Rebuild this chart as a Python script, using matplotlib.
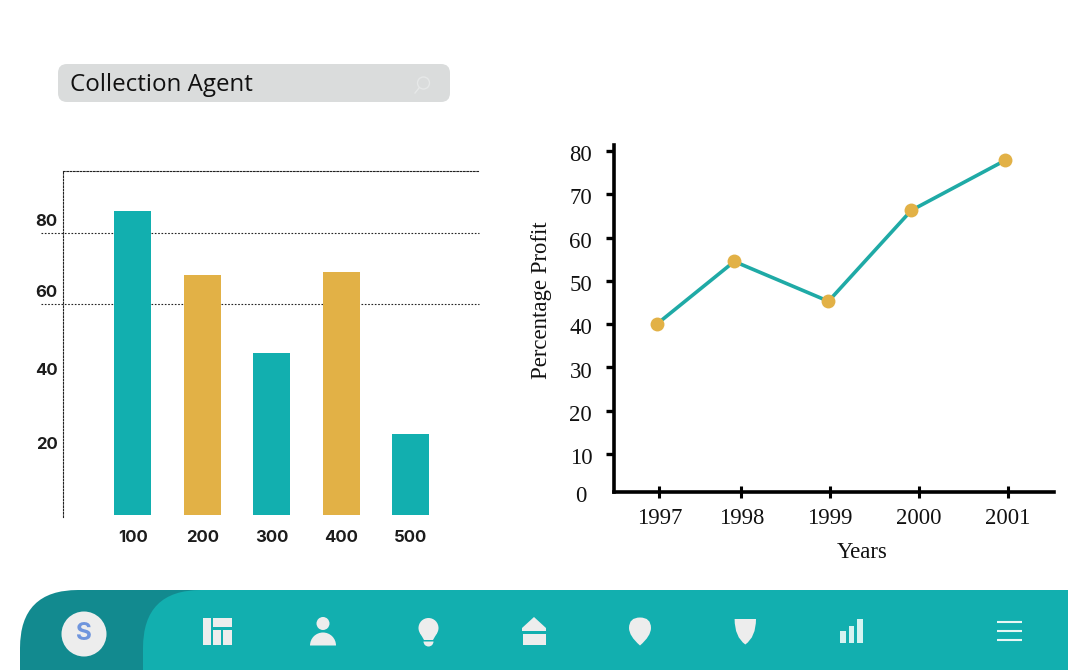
import matplotlib
matplotlib.use("Agg")
import matplotlib.pyplot as plt
from matplotlib.patches import FancyBboxPatch, Circle, Wedge, Polygon, Rectangle, PathPatch
from matplotlib.path import Path
from matplotlib.transforms import blended_transform_factory, ScaledTranslation

# ---------- data ----------
bar_categories = [100, 200, 300, 400, 500]
bar_values = [86.2, 68.2, 46.2, 69.0, 23.5]
bar_base = 0.6
grid_values = [80, 60]
bar_ytick_labels = ["80", "60", "40", "20"]
bar_ylabel_pos = [83.7, 63.8, 41.8, 21.0]

line_tick_pos = [1997, 1997.94, 1998.96, 1999.98, 2001]
line_tick_labels = ["1997", "1998", "1999", "2000", "2001"]
line_x = [1996.97, 1997.86, 1998.94, 1999.89, 2000.97]
line_y = [40.0, 54.5, 45.3, 66.3, 77.9]
line_yticks = [10, 20, 30, 40, 50, 60, 70, 80]

TEAL = "#12AFAF"
DARK = "#128A8F"
GOLD = "#E2B146"
LINE = "#1FAAA6"
ICON = "#EDEDED"
W, H = 1068, 670

fig = plt.figure(figsize=(W / 100, H / 100), dpi=100, facecolor="white")


def rect(x0, y0, x1, y1):
    return [x0 / W, 1 - y1 / H, (x1 - x0) / W, (y1 - y0) / H]


# ---------- decoration layer in pixel space ----------
bg = fig.add_axes([0, 0, 1, 1], zorder=0)
bg.set_xlim(0, W)
bg.set_ylim(H, 0)
bg.axis("off")

bg.add_patch(FancyBboxPatch((58, 64), 392, 38, boxstyle="round,pad=0,rounding_size=9",
                            fc="#DADCDC", ec="none"))
bg.text(70, 85, "Collection Agent", family="Open Sans", fontsize=17.4, color="#111111",
        va="center", ha="left")
bg.add_patch(Circle((423.5, 83), 6, fc="none", ec="#E6E8E8", lw=1))
bg.plot([419, 415], [88, 93], color="#E6E8E8", lw=1)

bg.add_patch(FancyBboxPatch((20, 590), 1200, 200, boxstyle="round,pad=0,rounding_size=58",
                            fc=DARK, ec="none"))
bg.add_patch(FancyBboxPatch((143, 590), 1200, 200, boxstyle="round,pad=0,rounding_size=58",
                            fc=TEAL, ec="none"))

# avatar
bg.add_patch(Circle((84, 634), 22.5, fc=ICON, ec="none"))
bg.text(84, 633.5, "S", family="Inter", fontsize=17.5, fontweight="bold", color="#6F95DD",
        ha="center", va="center")

# dashboard icon
for x0, y0, x1, y1 in [(203, 617.5, 211, 645), (212.5, 617.5, 231.5, 627),
                       (212.5, 630, 220.7, 645), (223.4, 630, 231.5, 645)]:
    bg.add_patch(Rectangle((x0, y0), x1 - x0, y1 - y0, fc=ICON, ec="none"))

# person icon
bg.add_patch(Circle((323, 623.5), 6.5, fc=ICON, ec="none"))
bg.add_patch(Wedge((323, 645.5), 13, 180, 360, fc=ICON, ec="none"))

# bulb icon
bg.add_patch(Circle((428.5, 628), 10, fc=ICON, ec="none"))
bg.add_patch(Polygon([(420, 633), (437, 633), (433, 640), (424, 640)], fc=ICON, ec="none"))
bg.add_patch(Wedge((428.5, 641.5), 5, 0, 180, fc=ICON, ec="none"))

# house icon
bg.add_patch(Polygon([(534, 617), (546, 628), (546, 631), (522, 631), (522, 628)],
                     fc=ICON, ec="none"))
bg.add_patch(Rectangle((523, 633.5), 23, 11.5, fc=ICON, ec="none"))

# pin icon
pin = Path([(640, 645.5), (629, 636), (629, 628), (629, 617.5), (640, 617.5),
            (651, 617.5), (651, 628), (651, 636), (640, 645.5)],
           [Path.MOVETO] + [Path.CURVE3] * 8)
bg.add_patch(PathPatch(pin, fc=ICON, ec="none"))

# shield icon
shield = Path([(734.6, 619), (756, 619), (756, 637), (745.3, 644.5), (734.6, 637), (734.6, 619)],
              [Path.MOVETO, Path.LINETO, Path.CURVE3, Path.CURVE3, Path.CURVE3, Path.CURVE3])
bg.add_patch(PathPatch(shield, fc=ICON, ec="none"))

# signal icon
for x0, x1, y0 in [(839.7, 846.4, 630.5), (848.8, 854, 625.5), (857, 862.6, 619.4)]:
    bg.add_patch(Rectangle((x0, y0), x1 - x0, 643.3 - y0, fc="#D5F3F1", ec="none"))

# menu icon
for y in [621.8, 630.5, 639.6]:
    bg.plot([997, 1022], [y, y], color="#E8F7F5", lw=1.5, solid_capstyle="butt")

# ---------- left bar chart ----------
ax = fig.add_axes(rect(63, 171, 479, 517.3), zorder=2)
ax.patch.set_alpha(0)
ax.set_xlim(-0.7, 598.6)
ax.set_ylim(0, 97.5)
ax.bar(bar_categories, [v - bar_base for v in bar_values], bottom=bar_base, width=53.5,
       color=[TEAL, GOLD, TEAL, GOLD, TEAL], zorder=3)

dot = (0, (1.5, 1.5))
for g in grid_values:
    ax.plot([-0.053, 1], [g, g], transform=blended_transform_factory(ax.transAxes, ax.transData),
            color="#222222", lw=0.8, ls=dot, clip_on=False, zorder=1)
for s in ["right", "bottom"]:
    ax.spines[s].set_visible(False)
for s in ["left", "top"]:
    ax.spines[s].set_linestyle(dot)
    ax.spines[s].set_linewidth(0.8)
    ax.spines[s].set_color("#222222")
ax.set_xticks(bar_categories, [str(c) for c in bar_categories])
ax.set_yticks(bar_ylabel_pos, bar_ytick_labels)
lab = dict(family="Inter", fontsize=12, fontweight="bold", color="#1c1c1c")
ax.tick_params(axis="both", length=0)
ax.tick_params(axis="x", pad=9.5)
ax.tick_params(axis="y", pad=4)
for t in ax.get_xticklabels() + ax.get_yticklabels():
    t.set(**lab)

# ---------- right line chart ----------
L, T, R, B = 613.7, 144.8, 1054.1, 491.7
ax2 = fig.add_axes(rect(L, T, R, B), zorder=2)
ax2.patch.set_alpha(0)
ax2.set_xlim(1997 - (659.3 - L) / 87.2, 1997 + (R - 659.3) / 87.2)
ax2.set_ylim(1.3, (497.5 - T) / 4.33)
ax2.plot(line_x, line_y, color=LINE, lw=2.6, zorder=3, solid_capstyle="round")
ax2.plot(line_x, line_y, ls="none", marker="o", ms=10, color=GOLD, mec="none", zorder=4)
for s in ["right", "top"]:
    ax2.spines[s].set_visible(False)
for s in ["left", "bottom"]:
    ax2.spines[s].set_linewidth(2.6)
    ax2.spines[s].set_color("black")
    ax2.spines[s].set_capstyle("projecting")
serif = dict(family="Liberation Serif", fontsize=16.4, color="#111111")
ax2.set_xticks(line_tick_pos, line_tick_labels)
ax2.set_yticks(line_yticks, [str(v) for v in line_yticks])
ax2.tick_params(axis="x", direction="inout", length=8, width=2.2, pad=8)
ax2.tick_params(axis="y", direction="out", length=5.5, width=2.4, pad=10)
for t in ax2.get_xticklabels() + ax2.get_yticklabels():
    t.set(**serif)
down = ScaledTranslation(0, -1.5 / 72, fig.dpi_scale_trans)
for t in ax2.get_yticklabels():
    t.set_transform(t.get_transform() + down)
ax2.text((587 - L) / (R - L), 0.3, "0", transform=blended_transform_factory(ax2.transAxes, ax2.transData),
         ha="right", va="center", clip_on=False, **serif)
ax2.set_xlabel("Years", va="center", **serif)
ax2.xaxis.set_label_coords((862 - L) / (R - L), -(553 - B) / (B - T))
ax2.set_ylabel("Percentage Profit", va="center", **serif)
ax2.yaxis.set_label_coords((542 - L) / (R - L), (B - 300) / (B - T))

fig.savefig("out.png", dpi=100, facecolor="white")
